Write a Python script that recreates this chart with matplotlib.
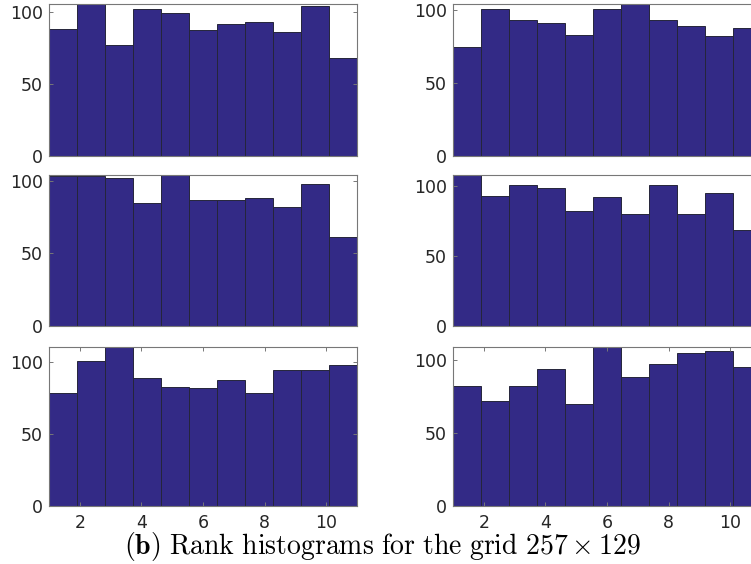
import numpy as np
import matplotlib
matplotlib.use("Agg")
import matplotlib.pyplot as plt

plt.rcParams['mathtext.fontset'] = 'cm'

# Rank histogram counts (11 bins over ranks 1..11)
counts_top_left = [88, 105, 77, 102, 99, 87, 91, 93, 86, 104, 68]
counts_top_right = [75, 101, 93, 91, 83, 101, 104, 93, 89, 82, 88]
counts_mid_left = [103, 103, 102, 85, 104, 87, 87, 88, 82, 98, 61]
counts_mid_right = [108, 93, 101, 99, 82, 92, 80, 101, 80, 95, 69]
counts_bot_left = [79, 101, 111, 89, 83, 82, 88, 79, 95, 95, 98]
counts_bot_right = [82, 72, 82, 94, 70, 109, 88, 97, 105, 106, 95]

rank_min, rank_max, n_bins = 1, 11, 11
xtick_vals = [2, 4, 6, 8, 10]
ytick_vals = [0, 50, 100]
caption = r"$\mathbf{(b)}\ \mathrm{Rank\ histograms\ for\ the\ grid}\ 257\times 129$"

panels = [
    [counts_top_left, counts_top_right],
    [counts_mid_left, counts_mid_right],
    [counts_bot_left, counts_bot_right],
]

W, H = 751, 564
fig = plt.figure(figsize=(W / 100, H / 100), dpi=100)

col_left_px = [49, 453]
col_width_px = 308
row_tb_px = [(4.3, 155.7), (175, 326), (346.7, 506)]

bar_color = '#332a86'
edge_color = '#25253a'
spine_color = '#777777'
label_color = '#262626'

edges = np.linspace(rank_min, rank_max, n_bins + 1)
width = edges[1] - edges[0]

for r, row in enumerate(panels):
    top, bot = row_tb_px[r]
    for c, counts in enumerate(row):
        ax = fig.add_axes([col_left_px[c] / W, 1 - bot / H,
                           col_width_px / W, (bot - top) / H])
        ax.bar(edges[:-1], counts, width=width, align='edge',
               color=bar_color, edgecolor=edge_color, linewidth=0.7)
        ax.set_xlim(rank_min, rank_max)
        ax.set_ylim(0, max(counts))
        ax.set_yticks(ytick_vals)
        if r == 2:
            ax.set_xticks(xtick_vals)
            ax.tick_params(axis='x', top=True, bottom=True)
        else:
            ax.set_xticks([])
        ax.tick_params(axis='y', right=True, left=True)
        ax.tick_params(direction='in', length=3, width=0.7,
                       color=spine_color, labelcolor=label_color,
                       labelsize=12.5)
        ax.tick_params(axis='y', pad=4.5)
        ax.tick_params(axis='x', pad=5.5)
        for s in ax.spines.values():
            s.set_color(spine_color)
            s.set_linewidth(0.8)

fig.text(382 / W, 1 - 554 / H, caption, ha='center', va='baseline',
         fontsize=20, color='black')

fig.savefig('out.png', dpi=100)
